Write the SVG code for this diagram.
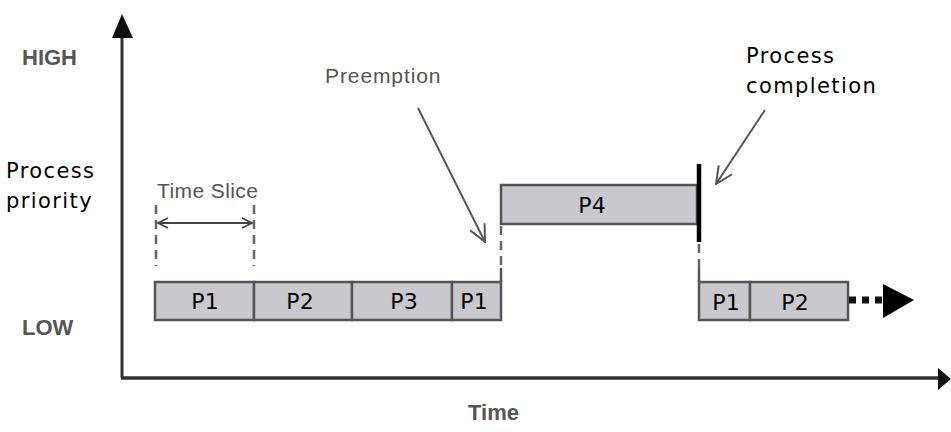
<svg xmlns="http://www.w3.org/2000/svg" width="951" height="432" viewBox="0 0 951 432">
<defs>
<style>
.lbl{font-family:"Liberation Sans",Arial,sans-serif;fill:#555;font-weight:bold;font-size:22px;}
.gl{font-family:"Liberation Sans",Arial,sans-serif;fill:#555;font-size:21px;}
.blk{font-family:"DejaVu Sans",Verdana,sans-serif;fill:#000;font-size:21px;letter-spacing:1.4px;}
.bar{fill:#c9c9cd;stroke:#555;stroke-width:2.5;}
.pt{font-family:"DejaVu Sans",Verdana,sans-serif;fill:#000;font-size:22px;text-anchor:middle;}
.dash{stroke:#666;stroke-width:2.5;stroke-dasharray:9,6;fill:none;}
.thin{stroke:#555;stroke-width:2;fill:none;}
</style>
<marker id="open" viewBox="0 0 12 12" refX="11" refY="6" markerWidth="12" markerHeight="12" markerUnits="userSpaceOnUse" orient="auto-start-reverse">
<path d="M1,1 L11,6 L1,11" fill="none" stroke="#444" stroke-width="1.8"/>
</marker>
<marker id="open2" viewBox="0 0 20 20" refX="19" refY="10" markerWidth="20" markerHeight="20" markerUnits="userSpaceOnUse" orient="auto">
<path d="M2,2 L19,10 L2,18" fill="none" stroke="#555" stroke-width="2"/>
</marker>
</defs>
<g id="axes">
<line x1="122" y1="34" x2="122" y2="378" stroke="#333" stroke-width="3"/>
<polygon points="122,14 112,38 133,38" fill="#111"/>
<line x1="121" y1="378" x2="938" y2="378" stroke="#333" stroke-width="3.5"/>
<polygon points="951,379 938,368 938,390" fill="#111"/>
</g>
<g id="labels">
<text class="lbl" x="22" y="65">HIGH</text>
<text class="lbl" x="22" y="335">LOW</text>
<text class="lbl" x="468" y="420">Time</text>
<text class="blk" x="6" y="178">Process</text>
<text class="blk" x="6" y="208">priority</text>
<text class="gl" x="157" y="198" letter-spacing="0.4">Time Slice</text>
<text class="gl" x="325" y="83" letter-spacing="0.9">Preemption</text>
<text class="blk" x="746" y="63">Process</text>
<text class="blk" x="746" y="93">completion</text>
</g>
<g id="timeslice">
<line class="dash" x1="156" y1="205" x2="156" y2="266"/>
<line class="dash" x1="254" y1="205" x2="254" y2="266"/>
<line x1="158" y1="223" x2="252" y2="223" stroke="#444" stroke-width="1.8" marker-start="url(#open)" marker-end="url(#open)"/>
</g>
<g id="row1">
<g id="p1a"><rect class="bar" x="155" y="282" width="99" height="38"/><text class="pt" x="205" y="309">P1</text></g>
<g id="p2a"><rect class="bar" x="254" y="282" width="98" height="38"/><text class="pt" x="300" y="309">P2</text></g>
<g id="p3"><rect class="bar" x="352" y="282" width="100" height="38"/><text class="pt" x="404" y="309">P3</text></g>
<g id="p1b"><rect class="bar" x="452" y="282" width="49" height="38"/><text class="pt" x="474" y="309">P1</text></g>
</g>
<g id="p4"><rect class="bar" x="501" y="185" width="196" height="39"/><text class="pt" x="592" y="213">P4</text></g>
<g id="row2">
<g id="p1c"><rect class="bar" x="699" y="282" width="51" height="38"/><text class="pt" x="726" y="310">P1</text></g>
<g id="p2b"><rect class="bar" x="750" y="282" width="98" height="38"/><text class="pt" x="795" y="310">P2</text></g>
</g>
<g id="connectors">
<line class="dash" x1="501" y1="226" x2="501" y2="270"/>
<line x1="501" y1="268" x2="501" y2="282" stroke="#555" stroke-width="2.5"/>
<line x1="699" y1="164" x2="699" y2="242" stroke="#000" stroke-width="4.5"/>
<line class="dash" x1="699" y1="244" x2="699" y2="270"/>
<line x1="699" y1="268" x2="699" y2="282" stroke="#555" stroke-width="2.5"/>
<line x1="849" y1="300" x2="882" y2="300" stroke="#111" stroke-width="7" stroke-dasharray="7,6"/>
<polygon points="914,300 883,284 883,318" fill="#000"/>
<line class="thin" x1="418" y1="108" x2="485" y2="242" marker-end="url(#open2)"/>
<line class="thin" x1="765" y1="110" x2="716" y2="184" marker-end="url(#open2)"/>
</g>
</svg>
